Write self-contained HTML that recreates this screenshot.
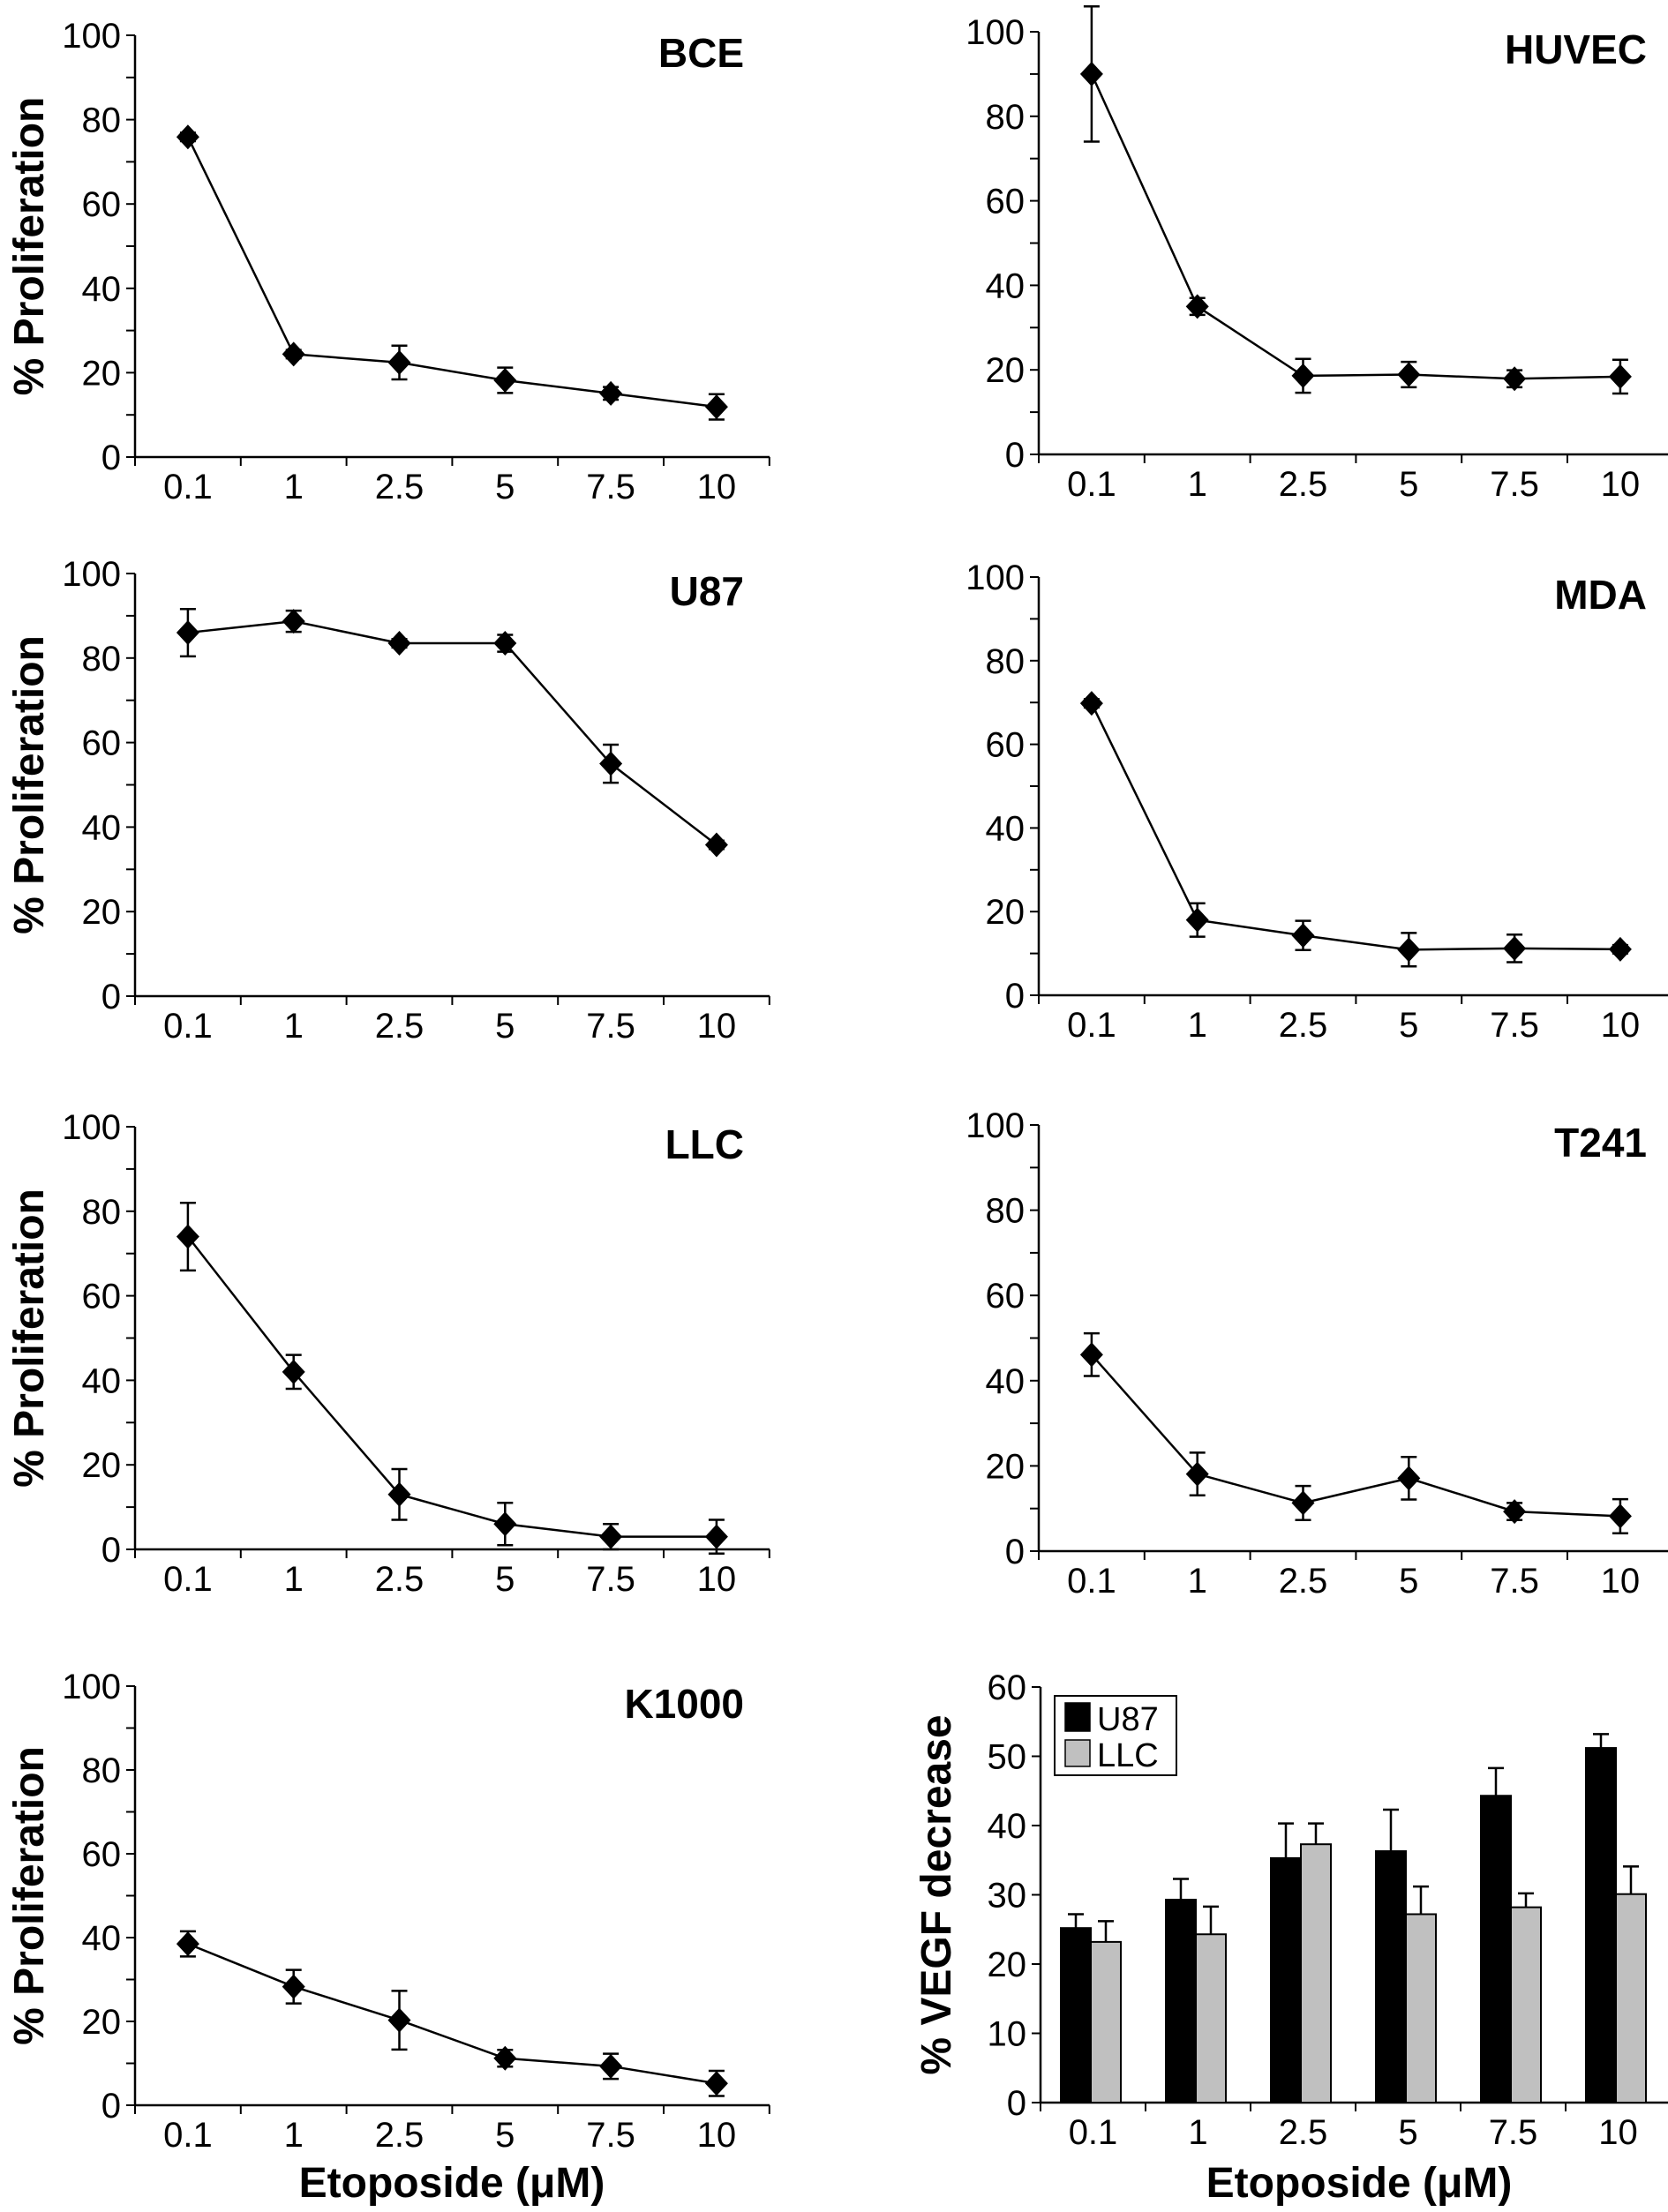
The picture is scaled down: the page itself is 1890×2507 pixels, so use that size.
<!DOCTYPE html>
<html><head><meta charset="utf-8"><style>
html,body{margin:0;padding:0;background:#fff;}
svg{display:block;}
text{font-family:"Liberation Sans",Arial,sans-serif;fill:#000;}
</style></head><body>
<svg id="fig" width="1890" height="2507" viewBox="0 0 1890 2507" xmlns="http://www.w3.org/2000/svg"></svg>
<script>
const categories = ["0.1","1","2.5","5","7.5","10"];
const yTicksProlif = [0,20,40,60,80,100];
const yTicksVegf = [0,10,20,30,40,50,60];
const bceValues = [75.9,24.4,22.4,18.2,15.1,11.9];
const bceErrors = [1,1,4,3,1.5,3];
const huvecValues = [90,35,18.6,18.9,17.9,18.4];
const huvecErrors = [16,2,4,3,2,4];
const u87Values = [86,88.7,83.5,83.5,55,35.8];
const u87Errors = [5.6,2.5,1,2,4.5,1];
const mdaValues = [69.8,18,14.3,10.9,11.2,11];
const mdaErrors = [1,4,3.5,4,3.3,1];
const llcValues = [74,42,13,6,3,3];
const llcErrors = [8,4,6,5,3,4];
const t241Values = [46.1,18.1,11.3,17.1,9.3,8.2];
const t241Errors = [5,5,4,5,2,4];
const k1000Values = [38.5,28.3,20.3,11.2,9.3,5.2];
const k1000Errors = [3,4,7,2,3,3];
const vegfU87Values = [25.2,29.3,35.3,36.3,44.3,51.2];
const vegfU87Errors = [2,3,5,6,4,2];
const vegfLlcValues = [23.2,24.3,37.3,27.2,28.2,30.1];
const vegfLlcErrors = [3,4,3,4,2,4];

const NS = "http://www.w3.org/2000/svg";
const svg = document.getElementById('fig');
function mk(tag, attrs, parent, txt){
  const e = document.createElementNS(NS, tag);
  for (const k in attrs) e.setAttribute(k, attrs[k]);
  if (txt !== undefined) e.textContent = txt;
  (parent || svg).appendChild(e);
  return e;
}

function axes(g, x0, top, bottom, ymax, ticks, minorStep, catW, xEnd, yTitle, titleCx){
  const ys = v => bottom - (v / ymax) * (bottom - top);
  const xs = i => x0 + catW * (i + 0.5);
  const yl = mk('line', {x1:x0, y1:top, x2:x0, y2:bottom, stroke:'#000','stroke-width':2.5}, g);
  
  
  const xl = mk('line', {x1:x0, y1:bottom, x2:xEnd, y2:bottom, stroke:'#000','stroke-width':2.5}, g);
  
  
  for (let v = 0; v <= ymax + 0.001; v += minorStep) {
    mk('line', {x1:x0-10, y1:ys(v), x2:x0, y2:ys(v), stroke:'#000','stroke-width':2}, g);
  }
  ticks.forEach(v => {
    const t = mk('text', {x:x0-16, y:ys(v)+14, 'text-anchor':'end', 'font-size':40}, g, String(v));
    
    
  });
  for (let i = 0; i <= categories.length; i++) {
    mk('line', {x1:x0+catW*i, y1:bottom, x2:x0+catW*i, y2:bottom+10, stroke:'#000','stroke-width':2}, g);
  }
  categories.forEach((c, i) => {
    const t = mk('text', {x:xs(i), y:bottom+47, 'text-anchor':'middle', 'font-size':40}, g, c);
    
    
  });
  if (yTitle) {
    const cy = (top + bottom) / 2;
    const yt = mk('text', {x:titleCx, y:cy, 'text-anchor':'middle', 'font-size':48, 'font-weight':'bold', transform:`rotate(-90 ${titleCx} ${cy}) translate(0 17)`}, g, yTitle);
    
    
  }
  return {xs, ys};
}

function linePanel(name, label, vals, errs, x0, top, bottom, xEnd, labelRight, showTitle){
  const g = mk('g', {});
  
  
  const catW = 119.8;
  const {xs, ys} = axes(g, x0, top, bottom, 100, yTicksProlif, 10, catW, xEnd, showTitle ? '% Proliferation' : null, x0 - 121);
  const tl = mk('text', {x:labelRight, y:top+36, 'text-anchor':'end', 'font-size':46, 'font-weight':'bold'}, g, label);
  
  
  const pts = vals.map((v, i) => xs(i) + ',' + ys(v)).join(' ');
  const pl = mk('polyline', {points:pts, fill:'none', stroke:'#000', 'stroke-width':2.5}, g);
  
  
  vals.forEach((v, i) => {
    const x = xs(i), y = ys(v), e = errs[i];
    const eb = mk('path', {d:`M${x},${ys(v+e)}V${ys(v-e)}M${x-9},${ys(v+e)}H${x+9}M${x-9},${ys(v-e)}H${x+9}`, stroke:'#000', 'stroke-width':2.5, fill:'none'}, g);
    
    
    const d = mk('polygon', {points:`${x},${y-14} ${x+13},${y} ${x},${y+14} ${x-13},${y}`, fill:'#000'}, g);
    
    
  });
}

const LX = 153, LEND = 872, RX = 1177, REND = 1890;
linePanel('bce', 'BCE', bceValues, bceErrors, LX, 40, 518, LEND, 843, true);
linePanel('huvec', 'HUVEC', huvecValues, huvecErrors, RX, 36, 515, REND, 1866, false);
linePanel('u87', 'U87', u87Values, u87Errors, LX, 650, 1129, LEND, 843, true);
linePanel('mda', 'MDA', mdaValues, mdaErrors, RX, 654, 1128, REND, 1866, false);
linePanel('llc', 'LLC', llcValues, llcErrors, LX, 1277, 1756, LEND, 843, true);
linePanel('t241', 'T241', t241Values, t241Errors, RX, 1275, 1758, REND, 1866, false);
linePanel('k1000', 'K1000', k1000Values, k1000Errors, LX, 1911, 2386, LEND, 843, true);

// VEGF bar chart
(function(){
  const g = mk('g', {});
  
  
  const x0 = 1179, top = 1912, bottom = 2383, catW = 119;
  const {ys} = axes(g, x0, top, bottom, 60, yTicksVegf, 10, catW, REND, '% VEGF decrease', 1060);
  const bw = 34;
  function bar(v, e, i, off, fill, nm){
    const x = x0 + catW * i + 23 + off;
    const eb = mk('path', {d:`M${x+bw/2},${ys(v)}V${ys(v+e)}M${x+bw/2-9},${ys(v+e)}H${x+bw/2+9}`, stroke:'#000','stroke-width':2.5}, g);
    
    
    const r = mk('rect', {x:x, y:ys(v), width:bw, height:bottom-ys(v), fill:fill, stroke:'#000','stroke-width':2}, g);
    
    
  }
  vegfU87Values.forEach((v, i) => bar(v, vegfU87Errors[i], i, 0, '#000', 'bar-u87-' + categories[i]));
  vegfLlcValues.forEach((v, i) => bar(v, vegfLlcErrors[i], i, bw, '#c0c0c0', 'bar-llc-' + categories[i]));
  const lg = mk('g', {}, g);
  
  
  mk('rect', {x:1195, y:1922, width:138, height:90, fill:'#fff', stroke:'#000','stroke-width':2}, lg);
  const s1 = mk('rect', {x:1207, y:1930, width:28, height:32, fill:'#000', stroke:'#000','stroke-width':1.5}, lg);
  
  
  const t1 = mk('text', {x:1243, y:1961, 'font-size':38}, lg, 'U87');
  
  
  const s2 = mk('rect', {x:1207, y:1972, width:28, height:30, fill:'#c0c0c0', stroke:'#000','stroke-width':1.5}, lg);
  
  
  const t2 = mk('text', {x:1243, y:2002, 'font-size':38}, lg, 'LLC');
  
  
})();

const xt1 = mk('text', {x:512, y:2490, 'text-anchor':'middle', 'font-size':48, 'font-weight':'bold'}, svg, 'Etoposide (μM)');


const xt2 = mk('text', {x:1540, y:2490, 'text-anchor':'middle', 'font-size':48, 'font-weight':'bold'}, svg, 'Etoposide (μM)');


</script>
</body></html>
